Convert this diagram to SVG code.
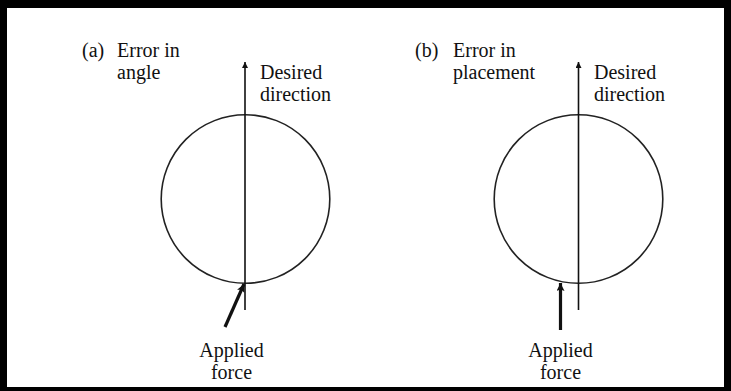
<svg xmlns="http://www.w3.org/2000/svg" width="731" height="391" viewBox="0 0 731 391">
<style>
text{font-family:'Liberation Serif','Times New Roman',serif;font-size:20px;fill:#111}
.thin{stroke:#111;stroke-width:1.6;fill:none}
.thick{stroke:#111;stroke-width:3.2;fill:none}
.circ{stroke:#222;stroke-width:1.6;fill:none}
</style>
<defs>
<marker id="ah" viewBox="0 0 10 10" refX="10" refY="5" markerWidth="6" markerHeight="6" markerUnits="userSpaceOnUse" orient="auto"><path d="M0,0 L10,5 L0,10 Z" fill="#111"/></marker>
<marker id="ahb" viewBox="0 0 10 10" refX="10" refY="5" markerWidth="11" markerHeight="8" markerUnits="userSpaceOnUse" orient="auto"><path d="M0,0 L10,5 L0,10 L2,5 Z" fill="#111"/></marker>
</defs>
<rect width="731" height="391" fill="#fff"/>
<path d="M0,0 H731 V391 H0 Z M7,8 V387 H724 V8 Z" fill="#000" fill-rule="evenodd"/>
<g id="panel-a">
<circle cx="245.5" cy="199" r="84.3" class="circ"/>
<text x="82" y="57">(a)</text>
<text x="117" y="57">Error in</text>
<text x="117" y="79">angle</text>
<text x="260" y="79">Desired</text>
<text x="260" y="101">direction</text>
<text x="231.5" y="357" text-anchor="middle">Applied</text>
<text x="231.5" y="379" text-anchor="middle">force</text>
</g>
<g id="panel-b">
<circle cx="578.5" cy="199" r="84.3" class="circ"/>
<text x="415" y="57">(b)</text>
<text x="453" y="57">Error in</text>
<text x="453" y="79">placement</text>
<text x="594" y="79">Desired</text>
<text x="594" y="101">direction</text>
<text x="560.5" y="357" text-anchor="middle">Applied</text>
<text x="560.5" y="379" text-anchor="middle">force</text>
</g>
<g id="connectors">
<line x1="245" y1="310" x2="245" y2="62" class="thin" marker-end="url(#ah)"/>
<line x1="578.5" y1="310" x2="578.5" y2="62" class="thin" marker-end="url(#ah)"/>
<line x1="225" y1="327" x2="244" y2="284" class="thick" marker-end="url(#ahb)"/>
<line x1="560.5" y1="330" x2="560.5" y2="283" class="thick" marker-end="url(#ahb)"/>
</g>
</svg>
